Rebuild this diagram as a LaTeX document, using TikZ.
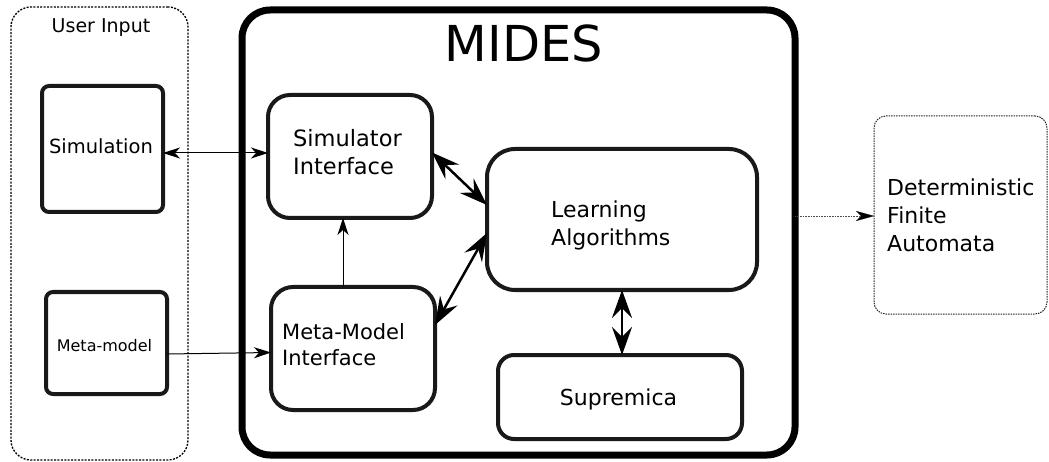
\documentclass[tikz,border=0pt]{standalone}
\usepackage{fontspec}
\setmainfont{DejaVu Sans}
\usetikzlibrary{arrows.meta}
\tikzset{
  box/.style={draw=black!90, line width=4pt, inner sep=0pt, outer sep=0pt},
  dotbox/.style={draw, line width=1.3pt, dash pattern=on 2pt off 1.4pt, inner sep=0pt, outer sep=0pt},
  lbl/.style={inner sep=0pt, anchor=base west},
  clbl/.style={inner sep=0pt, anchor=base},
  thinarr/.style={line width=1pt, -{Stealth[length=17pt,width=11pt,inset=5pt]}},
  thinbi/.style={line width=1pt, {Stealth[length=17pt,width=11pt,inset=5pt]}-{Stealth[length=17pt,width=11pt,inset=5pt]}},
  thickbi/.style={line width=2.5pt, {Stealth[length=28pt,width=20pt,inset=10pt]}-{Stealth[length=28pt,width=20pt,inset=10pt]}},
  fs/.style={font=\fontsize{#1}{#1}\selectfont}
}
\begin{document}
\begin{tikzpicture}[x=1pt,y=-1pt]
\useasboundingbox (0,0) rectangle (1049,462);

% containers
\node[dotbox, rounded corners=20pt, minimum width=177pt, minimum height=453pt] (user) at (99.5,233.5) {};
\node[draw, line width=7pt, rounded corners=28pt, inner sep=0pt, outer sep=0pt, minimum width=553pt, minimum height=445pt] (mides) at (518.5,232.5) {};
\node[draw=black!85, line width=1pt, dash pattern=on 1.5pt off 1pt, rounded corners=12pt, inner sep=0pt, outer sep=0pt, minimum width=173pt, minimum height=198pt] (dfa) at (960.5,215) {};

% boxes
\node[box, rounded corners=7pt, minimum width=121pt, minimum height=126pt] (sim) at (102.5,149) {};
\node[box, rounded corners=7pt, minimum width=121pt, minimum height=102pt] (meta) at (106.5,343) {};
\node[box, rounded corners=22pt, minimum width=164pt, minimum height=123pt] (si) at (350,156.5) {};
\node[box, rounded corners=22pt, minimum width=164pt, minimum height=123pt] (mmi) at (353,348.5) {};
\node[box, rounded corners=28pt, minimum width=270pt, minimum height=141pt] (la) at (622,219.5) {};
\node[box, rounded corners=16pt, minimum width=244pt, minimum height=84pt] (sup) at (620,397) {};

% labels
\node[clbl, fs=19] (tuser) at (101,33) {User Input};
\node[clbl, fs=49.5] (tmides) at (524,62) {MIDES};
\node[clbl, fs=19.5] (tsim) at (101,154) {Simulation};
\node[clbl, fs=16] (tmeta) at (104.5,351) {Meta-model};
\node[lbl, fs=22.5] (tsi1) at (293,147) {Simulator};
\node[lbl, fs=22.5] (tsi2) at (293,175) {Interface};
\node[lbl, fs=21] (tmmi1) at (282,339) {Meta-Model};
\node[lbl, fs=21] (tmmi2) at (282,365) {Interface};
\node[lbl, fs=22] (tla1) at (551,218) {Learning};
\node[lbl, fs=22] (tla2) at (551,246) {Algorithms};
\node[clbl, fs=22] (tsup) at (618.5,405) {Supremica};
\node[lbl, fs=22] (tdfa1) at (887,196) {Deterministic};
\node[lbl, fs=22] (tdfa2) at (887,224) {Finite};
\node[lbl, fs=22] (tdfa3) at (887,252) {Automata};

% connectors
\draw[thinbi] ([yshift=-4pt]sim.east) -- ([yshift=-4pt]sim.east -| si.west);
\draw[thinarr] ([yshift=-11pt]meta.east) -- ([yshift=-4pt]mmi.west);
\draw[thinarr] ([xshift=-10pt]mmi.north) -- ([xshift=-10pt]mmi.north |- si.south);
\draw[thickbi] ([yshift=4pt]si.east) -- ([yshift=14.5pt]la.west);
\draw[thickbi] ([yshift=23.5pt]mmi.east) -- ([yshift=-13.5pt]la.west);
\draw[thickbi] (la.south) -- (la.south |- sup.north);
\draw[draw=black!70, line width=0.9pt, dash pattern=on 1pt off 0.6pt, -{Stealth[length=18pt,width=10pt,inset=5pt,black,line width=0.1pt]}] ([yshift=16.5pt]mides.east) -- ([yshift=16.5pt]mides.east -| dfa.west);
\end{tikzpicture}
\end{document}
